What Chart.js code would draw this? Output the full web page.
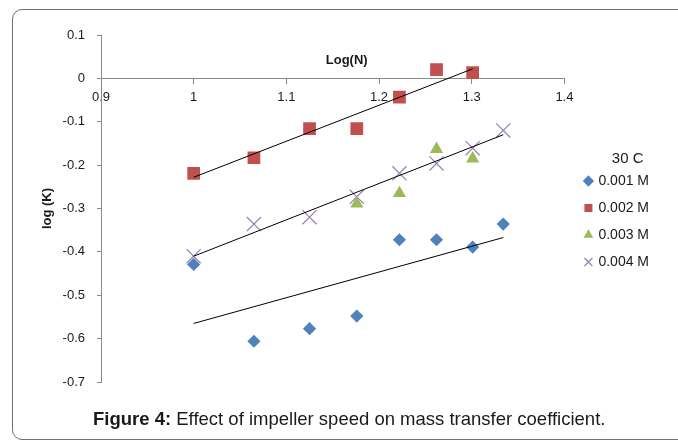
<!DOCTYPE html>
<html><head><meta charset="utf-8">
<script src="https://cdn.jsdelivr.net/npm/chart.js@4.4.1/dist/chart.umd.min.js"></script>
<style>
html,body{margin:0;padding:0;background:#fff;width:678px;height:441px;overflow:hidden;}
#frame{position:absolute;left:12px;top:9px;width:720px;height:431px;border:1.5px solid #6e6e6e;border-radius:10px;box-sizing:border-box;}
#wrap{position:absolute;left:0;top:0;width:678px;height:441px;}
#caption{position:absolute;left:93px;top:410px;font:18.5px/18px "Liberation Sans",Arial,sans-serif;color:#1a1a1a;white-space:nowrap;}
</style></head><body>
<div id="frame"></div>
<div id="wrap"><canvas id="c" width="678" height="441"></canvas></div>
<div id="caption"><b>Figure 4:</b> Effect of impeller speed on mass transfer coefficient.</div>
<script>
// ---- data ----
const logN = [1.000, 1.065, 1.125, 1.176, 1.222, 1.262, 1.301, 1.334];
const logN002 = [1.000, 1.065, 1.125, 1.176, 1.222, 1.262, 1.301];
const logN003 = [1.176, 1.222, 1.262, 1.301];
const seriesNames = ['0.001 M', '0.002 M', '0.003 M', '0.004 M'];
const logK001 = [-0.429, -0.606, -0.577, -0.548, -0.372, -0.372, -0.389, -0.336];
const logK002 = [-0.219, -0.183, -0.116, -0.116, -0.043, 0.020, 0.013];
const logK003 = [-0.289, -0.265, -0.163, -0.185];
const logK004 = [-0.410, -0.336, -0.320, -0.273, -0.219, -0.196, -0.161, -0.120];
const trendX001 = [1.000, 1.334], trendY001 = [-0.565, -0.367];
const trendX002 = [1.000, 1.301], trendY002 = [-0.228, 0.022];
const trendX004 = [1.000, 1.334], trendY004 = [-0.410, -0.130];
const xTickLabels = ['0.9', '1', '1.1', '1.2', '1.3', '1.4'];
const yTickLabels = ['-0.7', '-0.6', '-0.5', '-0.4', '-0.3', '-0.2', '-0.1', '0', '0.1'];
const xTitle = 'Log(N)';
const yTitle = 'log (K)';
const legendTitle = '30 C';

const pts = (xs, ys) => xs.map((x, i) => ({x: x, y: ys[i]}));
const FONT = '"Liberation Sans", Arial, sans-serif';
Chart.defaults.font.family = FONT;
Chart.defaults.color = '#1a1a1a';

const axisGrey = '#8a8a8a';

const xTitlePlugin = {
  id: 'xTitleAbove',
  afterLayout(chart) {
    // widen the legend box to the right so its title sits where the reference has it
    const lg = chart.legend;
    if (lg) { lg.width += 24; lg.right += 24; }
  },
  afterDraw(chart) {
    const {ctx, chartArea, scales} = chart;
    ctx.save();
    ctx.font = 'bold 13px ' + FONT;
    ctx.fillStyle = '#1a1a1a';
    ctx.textAlign = 'center';
    ctx.textBaseline = 'middle';
    ctx.fillText(xTitle, (chartArea.left + chartArea.right) / 2 + 14, scales.y.getPixelForValue(0) - 18);
    ctx.restore();
  }
};

new Chart(document.getElementById('c'), {
  type: 'scatter',
  data: {
    datasets: [
      {label: seriesNames[0], data: pts(logN, logK001), pointStyle: 'rectRot', pointRadius: 6.6,
       backgroundColor: '#4F81BD', borderColor: '#4F81BD', borderWidth: 0, order: 1},
      {label: seriesNames[1], data: pts(logN002, logK002), pointStyle: 'rect', pointRadius: 9,
       backgroundColor: '#C0504D', borderColor: '#C0504D', borderWidth: 0, order: 1},
      {label: seriesNames[2], data: pts(logN003, logK003), pointStyle: 'triangle', pointRadius: 7.6,
       backgroundColor: '#9BBB59', borderColor: '#9BBB59', borderWidth: 0, order: 1},
      {label: seriesNames[3], data: pts(logN, logK004), pointStyle: 'crossRot', pointRadius: 10,
       backgroundColor: '#8064A2', borderColor: '#9580b5', borderWidth: 1.2, order: 1},
      {label: 'trend1', type: 'line', data: pts(trendX001, trendY001), borderColor: '#000', borderWidth: 1,
       pointRadius: 0, fill: false, order: 0},
      {label: 'trend2', type: 'line', data: pts(trendX002, trendY002), borderColor: '#000', borderWidth: 1,
       pointRadius: 0, fill: false, order: 0},
      {label: 'trend4', type: 'line', data: pts(trendX004, trendY004), borderColor: '#000', borderWidth: 1,
       pointRadius: 0, fill: false, order: 0}
    ]
  },
  options: {
    responsive: false,
    animation: false,
    events: [],
    devicePixelRatio: 1,
    layout: {padding: {left: 20, top: 35, right: 19, bottom: 59}},
    scales: {
      x: {
        type: 'linear', position: {y: 0}, min: 0.9, max: 1.4,
        grid: {display: true, drawOnChartArea: false, drawTicks: true, tickLength: 5, color: axisGrey},
        border: {display: true, color: axisGrey, width: 1},
        ticks: {stepSize: 0.1, padding: 6, font: {size: 13}, color: '#1a1a1a',
                maxRotation: 0, autoSkip: false,
                callback: (v, i) => xTickLabels[i]}
      },
      y: {
        type: 'linear', position: 'left', min: -0.7, max: 0.1,
        afterFit: s => { s.width = 81; },
        grid: {display: true, drawOnChartArea: false, drawTicks: true, tickLength: 4, color: axisGrey},
        border: {display: true, color: axisGrey, width: 1},
        ticks: {stepSize: 0.1, padding: 12, font: {size: 13}, color: '#1a1a1a', autoSkip: false,
                callback: (v, i) => yTickLabels[i]},
        title: {display: true, text: yTitle, font: {size: 13, weight: 'bold'}, color: '#1a1a1a',
                padding: {top: 20, bottom: 0}}
      },
      spacer: {
        type: 'linear', position: 'right', display: true,
        afterFit: s => { s.width = 8; },
        grid: {display: false}, border: {display: false}, ticks: {display: false}
      }
    },
    plugins: {
      legend: {
        position: 'right', align: 'center',
        title: {display: true, text: legendTitle, font: {size: 15}, color: '#1a1a1a', padding: {top: 16, bottom: -8}},
        labels: {usePointStyle: true, boxWidth: 6, boxHeight: 8, padding: 13, font: {size: 14}, color: '#1a1a1a',
                 filter: item => item.datasetIndex < 4}
      },
      tooltip: {enabled: false}
    }
  },
  plugins: [xTitlePlugin]
});
</script>
</body></html>
